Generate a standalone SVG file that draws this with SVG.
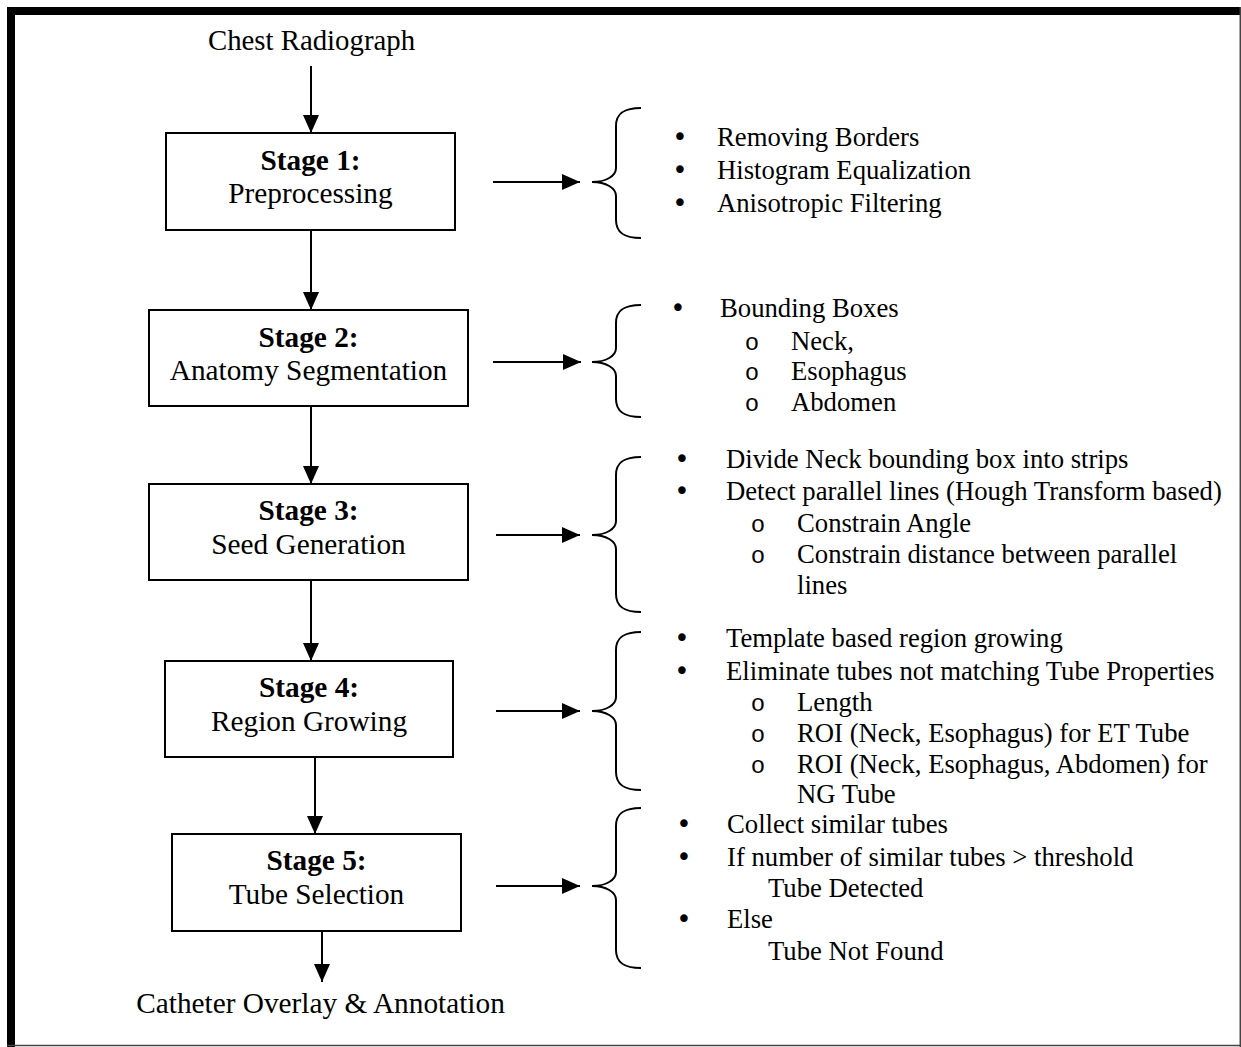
<svg xmlns="http://www.w3.org/2000/svg" width="1241" height="1047" viewBox="0 0 1241 1047">
<defs>
<marker id="ah" markerUnits="userSpaceOnUse" markerWidth="18" markerHeight="16" viewBox="0 0 18 16" refX="18" refY="8" orient="auto">
<path d="M0,0 L18,8 L0,16 Z" fill="#000"/>
</marker>
</defs>
<style>
text{font-family:"Liberation Serif","Times New Roman",serif;fill:#000}
.bx{fill:#fff;stroke:#000;stroke-width:2}
.t{font-size:29.3px;text-anchor:middle}
.b{font-weight:bold}
.l{font-size:26.7px}
.d{font-family:"DejaVu Sans",sans-serif;font-size:26px;text-anchor:middle}
.o{font-family:"Liberation Mono","Courier New",monospace;font-size:24px;text-anchor:middle}
.ln{stroke:#000;stroke-width:2;fill:none}
.br{stroke:#000;stroke-width:2;fill:none}
</style>
<rect x="0" y="0" width="1241" height="1047" fill="#fff"/>
<g id="frame">
<rect x="7" y="7" width="1234" height="8" fill="#000"/>
<rect x="7" y="7" width="8" height="1040" fill="#000"/>
<line x1="7" y1="1045.5" x2="1241" y2="1045.5" stroke="#444" stroke-width="1.5"/>
<line x1="1240.3" y1="7" x2="1240.3" y2="1047" stroke="#444" stroke-width="1.5"/>
</g>
<g id="input">
<text class="t" x="311.5" y="50" style="font-size:28.8px">Chest Radiograph</text>
</g>
<g id="stage1">
<rect class="bx" x="166" y="133" width="289" height="97"/>
<text class="t b" x="310.5" y="170">Stage 1:</text>
<text class="t" x="310.5" y="203">Preprocessing</text>
</g>
<g id="stage2">
<rect class="bx" x="149" y="310" width="319" height="96"/>
<text class="t b" x="308.5" y="347">Stage 2:</text>
<text class="t" x="308.5" y="380">Anatomy Segmentation</text>
</g>
<g id="stage3">
<rect class="bx" x="149" y="484" width="319" height="96"/>
<text class="t b" x="308.5" y="520">Stage 3:</text>
<text class="t" x="308.5" y="554">Seed Generation</text>
</g>
<g id="stage4">
<rect class="bx" x="165" y="661" width="288" height="96"/>
<text class="t b" x="309" y="697">Stage 4:</text>
<text class="t" x="309" y="731">Region Growing</text>
</g>
<g id="stage5">
<rect class="bx" x="172" y="834" width="289" height="97"/>
<text class="t b" x="316.5" y="870">Stage 5:</text>
<text class="t" x="316.5" y="904">Tube Selection</text>
</g>
<g id="output">
<text class="t" x="320.5" y="1013">Catheter Overlay &amp; Annotation</text>
</g>
<g id="connectors">
<line class="ln" x1="311" y1="66" x2="311" y2="133" marker-end="url(#ah)"/>
<line class="ln" x1="311" y1="230" x2="311" y2="310" marker-end="url(#ah)"/>
<line class="ln" x1="311" y1="406" x2="311" y2="484" marker-end="url(#ah)"/>
<line class="ln" x1="311" y1="580" x2="311" y2="661" marker-end="url(#ah)"/>
<line class="ln" x1="315" y1="757" x2="315" y2="834" marker-end="url(#ah)"/>
<line class="ln" x1="322" y1="931" x2="322" y2="982" marker-end="url(#ah)"/>
<line class="ln" x1="493" y1="182" x2="580" y2="182" marker-end="url(#ah)"/>
<line class="ln" x1="493" y1="362" x2="581" y2="362" marker-end="url(#ah)"/>
<line class="ln" x1="496" y1="535" x2="580" y2="535" marker-end="url(#ah)"/>
<line class="ln" x1="496" y1="711" x2="580" y2="711" marker-end="url(#ah)"/>
<line class="ln" x1="496" y1="886" x2="580" y2="886" marker-end="url(#ah)"/>
</g>
<g id="brace1">
<path class="br" d="M641,108 C626,108 616,112 616,126 L616,168 C616,176 606,182 592,182 C606,182 616,188 616,196 L616,220 C616,234 626,238 641,238"/>
<text class="d" x="680" y="146">•</text>
<text class="d" x="680" y="179">•</text>
<text class="d" x="680" y="212">•</text>
<text class="l" x="717" y="146">Removing Borders</text>
<text class="l" x="717" y="179">Histogram Equalization</text>
<text class="l" x="717" y="212">Anisotropic Filtering</text>
</g>
<g id="brace2">
<path class="br" d="M641,305 C626,305 616,309 616,323 L616,348 C616,356 606,362 592,362 C606,362 616,368 616,376 L616,399 C616,413 626,417 641,417"/>
<text class="d" x="678" y="317">•</text>
<text class="l" x="720" y="317">Bounding Boxes</text>
<text class="o" x="752" y="350">o</text>
<text class="o" x="752" y="380">o</text>
<text class="o" x="752" y="411">o</text>
<text class="l" x="791" y="350">Neck,</text>
<text class="l" x="791" y="380">Esophagus</text>
<text class="l" x="791" y="411">Abdomen</text>
</g>
<g id="brace3">
<path class="br" d="M641,457 C626,457 616,461 616,475 L616,521 C616,529 606,535 592,535 C606,535 616,541 616,549 L616,594 C616,608 626,612 641,612"/>
<text class="d" x="682" y="468">•</text>
<text class="d" x="682" y="500">•</text>
<text class="l" x="726" y="468">Divide Neck bounding box into strips</text>
<text class="l" x="726" y="500">Detect parallel lines (Hough Transform based)</text>
<text class="o" x="758" y="532">o</text>
<text class="o" x="758" y="563">o</text>
<text class="l" x="797" y="532">Constrain Angle</text>
<text class="l" x="797" y="563">Constrain distance between parallel</text>
<text class="l" x="797" y="594">lines</text>
</g>
<g id="brace4">
<path class="br" d="M641,632 C626,632 616,636 616,650 L616,697 C616,705 606,711 592,711 C606,711 616,717 616,725 L616,772 C616,786 626,790 641,790"/>
<text class="d" x="682" y="647">•</text>
<text class="d" x="682" y="680">•</text>
<text class="l" x="726" y="647">Template based region growing</text>
<text class="l" x="726" y="680">Eliminate tubes not matching Tube Properties</text>
<text class="o" x="758" y="711">o</text>
<text class="o" x="758" y="742">o</text>
<text class="o" x="758" y="773">o</text>
<text class="l" x="797" y="711">Length</text>
<text class="l" x="797" y="742">ROI (Neck, Esophagus) for ET Tube</text>
<text class="l" x="797" y="773">ROI (Neck, Esophagus, Abdomen) for</text>
<text class="l" x="797" y="803">NG Tube</text>
</g>
<g id="brace5">
<path class="br" d="M641,808 C626,808 616,812 616,826 L616,872 C616,880 606,886 592,886 C606,886 616,892 616,900 L616,950 C616,964 626,968 641,968"/>
<text class="d" x="684" y="833">•</text>
<text class="d" x="684" y="866">•</text>
<text class="d" x="684" y="928">•</text>
<text class="l" x="727" y="833">Collect similar tubes</text>
<text class="l" x="727" y="866">If number of similar tubes &gt; threshold</text>
<text class="l" x="768" y="897">Tube Detected</text>
<text class="l" x="727" y="928">Else</text>
<text class="l" x="768" y="960">Tube Not Found</text>
</g>
</svg>
